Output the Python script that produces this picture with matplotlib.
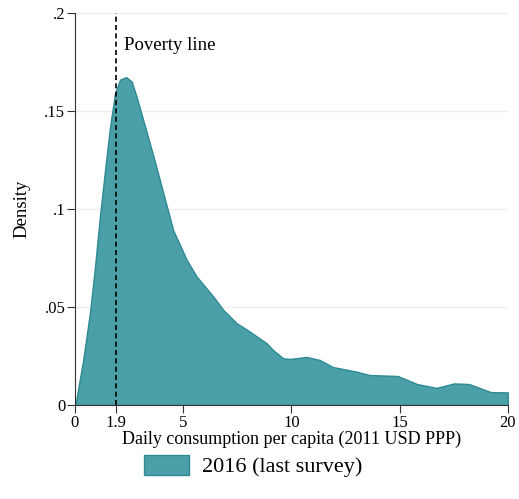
import numpy as np
import matplotlib
matplotlib.use("Agg")
import matplotlib.pyplot as plt
from matplotlib.patches import Patch

# density
consumption = [0, 0.05, 0.38, 0.69, 0.92, 1.15, 1.39, 1.62, 1.85, 2.08, 2.36, 2.62, 2.85,
               3.16, 3.62, 4.08, 4.54, 4.85, 5.16, 5.62, 6.39, 6.85, 7.47, 8.08, 8.85,
               9.15, 9.62, 9.93, 10.7, 11.3, 11.9, 13.0, 13.6, 14.9, 15.8, 16.7, 17.5,
               18.2, 19.2, 20.0]
density = [0, 0.002, 0.023, 0.047, 0.070, 0.096, 0.12, 0.142, 0.159, 0.166, 0.1673,
           0.165, 0.157, 0.145, 0.127, 0.108, 0.089, 0.0816, 0.074, 0.0655, 0.0553,
           0.0485, 0.0417, 0.0374, 0.0315, 0.028, 0.0238, 0.0235, 0.0245, 0.023, 0.0194,
           0.017, 0.0153, 0.0148, 0.0107, 0.0087, 0.011, 0.0107, 0.0066, 0.0064]
poverty_line = 1.9
xticks = [0, 1.9, 5, 10, 15, 20]
xtick_labels = ["0", "1.9", "5", "10", "15", "20"]
yticks = [0, 0.05, 0.1, 0.15, 0.2]
ytick_labels = ["0", ".05", ".1", ".15", ".2"]

plt.rcParams['font.family'] = ['Liberation Serif', 'DejaVu Serif']

fig = plt.figure(figsize=(5.19, 4.99), dpi=100)
ax = fig.add_axes([0.1445, 0.1884, 0.8343, 0.7856])

fill_color = "#4a9fa8"
edge_color = "#2e8a93"
x = consumption + [consumption[-1]]
y = density + [0]
ax.fill_between(x, y, 0, color=fill_color, edgecolor=edge_color, linewidth=1)

ax.axvline(poverty_line, ymin=0, ymax=1, color="black", linestyle=(0, (3, 2)), linewidth=1.2)
ax.text(poverty_line + 0.35, 0.1835, "Poverty line", fontsize=13.5, va="center", ha="left")

ax.set_xlim(0, 20)
ax.set_ylim(0, 0.2)
ax.set_xticks(xticks)
ax.set_xticklabels(xtick_labels, fontsize=12)
ax.set_yticks(yticks)
ax.set_yticklabels(ytick_labels, fontsize=12)
ax.tick_params(axis="y", length=6, pad=1, color="#333333")
ax.tick_params(axis="x", length=6, pad=1, color="#333333")
ax.grid(axis="y", color="#eeeeee", linewidth=1)
ax.set_axisbelow(True)
for s in ["top", "right"]:
    ax.spines[s].set_visible(False)
for s in ["left", "bottom"]:
    ax.spines[s].set_color("#333333")

ax.set_xlabel("Daily consumption per capita (2011 USD PPP)", fontsize=13, labelpad=0)
ax.set_ylabel("Density", fontsize=13.5, labelpad=10)

handle = Patch(facecolor=fill_color, edgecolor=edge_color, label="2016 (last survey)")
fig.legend(handles=[handle], loc="center", bbox_to_anchor=(0.488, 0.066), frameon=False,
           fontsize=16, handlelength=2.0, handleheight=1.0, handletextpad=0.6)

fig.savefig("out.png", dpi=100)
